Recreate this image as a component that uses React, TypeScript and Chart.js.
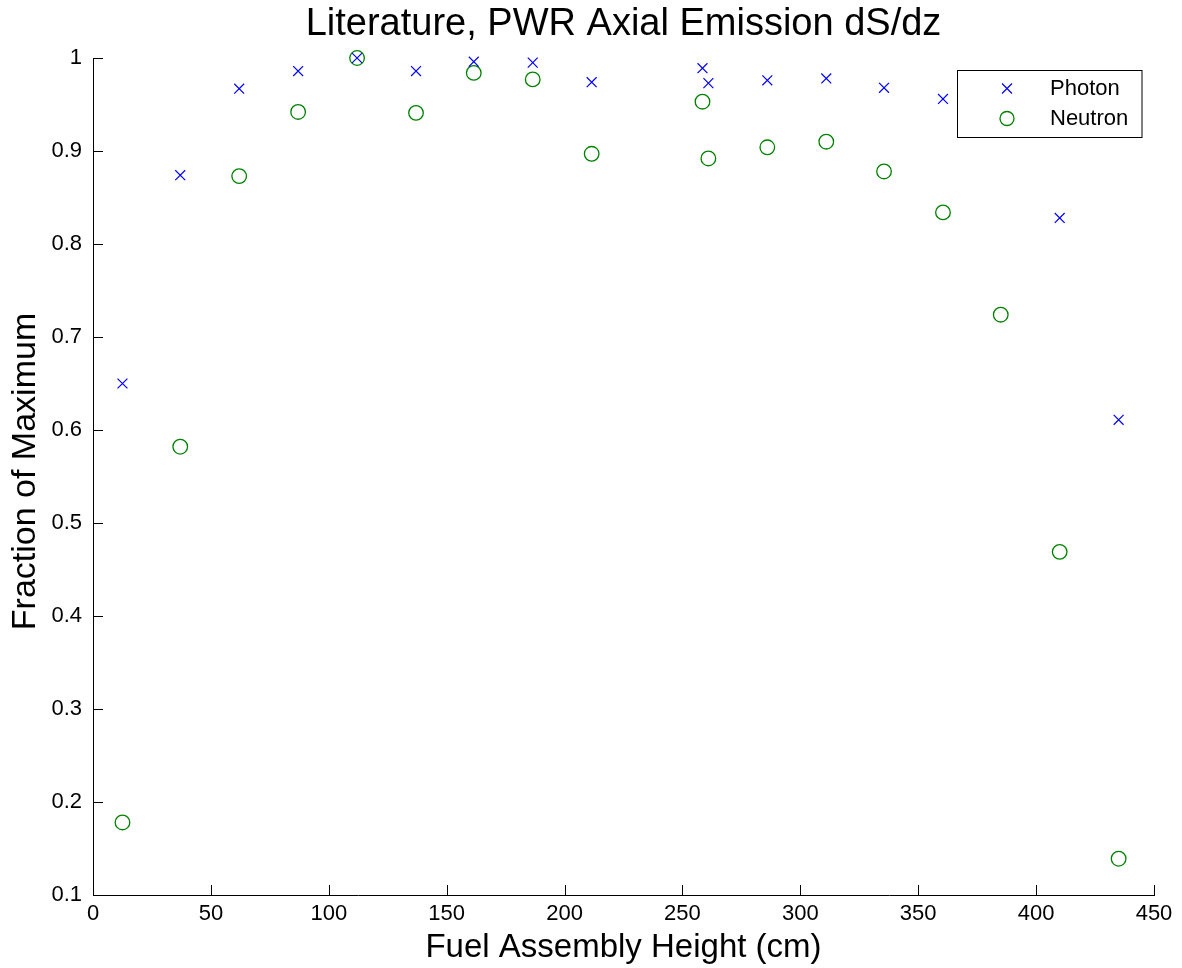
import React, { useEffect, useRef } from "react";
import { Chart, registerables } from "chart.js";

Chart.register(...registerables);

const heights = [12.5, 37, 62, 87, 112, 137, 161.5, 186.5, 211.5, 258.5, 261, 286, 311, 335.5, 360.5, 385, 410, 435];
const photon: (number | null)[] = [0.65, 0.874, 0.967, 0.986, 1.0, 0.986, 0.996, 0.995, 0.974, 0.989, 0.973, 0.976, 0.978, 0.968, 0.956, null, 0.828, 0.611];
const neutron = [0.178, 0.582, 0.873, 0.942, 1.0, 0.941, 0.984, 0.977, 0.897, 0.953, 0.892, 0.904, 0.91, 0.878, 0.834, 0.724, 0.469, 0.139];
const xTicks = [0, 50, 100, 150, 200, 250, 300, 350, 400, 450];
const yTicks = [0.1, 0.2, 0.3, 0.4, 0.5, 0.6, 0.7, 0.8, 0.9, 1];
const seriesNames = ["Photon", "Neutron"];

const TITLE = "Literature, PWR Axial Emission dS/dz";
const XLABEL = "Fuel Assembly Height (cm)";
const YLABEL = "Fraction of Maximum";
const FONT = "'Liberation Sans', Arial, Helvetica, sans-serif";

const decorPlugin = {
  id: "decor",
  afterDatasetsDraw(chart: any) {
    const { ctx, chartArea, scales } = chart;
    const xs = scales.x;
    const ys = scales.y;
    ctx.save();
    // inward ticks
    ctx.strokeStyle = "#000";
    ctx.lineWidth = 1;
    ctx.beginPath();
    xTicks.forEach((t) => {
      const px = Math.round(xs.getPixelForValue(t)) + 0.5;
      ctx.moveTo(px, chartArea.bottom);
      ctx.lineTo(px, chartArea.bottom - 10);
    });
    yTicks.forEach((t) => {
      const py = Math.round(ys.getPixelForValue(t)) + 0.5;
      ctx.moveTo(chartArea.left, py);
      ctx.lineTo(chartArea.left + 10, py);
    });
    ctx.stroke();

    // title
    ctx.fillStyle = "#000";
    ctx.font = `38px ${FONT}`;
    ctx.textAlign = "center";
    ctx.textBaseline = "alphabetic";
    ctx.fillText(TITLE, (chartArea.left + chartArea.right) / 2, 35);

    // x label
    ctx.font = `33px ${FONT}`;
    ctx.fillText(XLABEL, (chartArea.left + chartArea.right) / 2, 957);

    // y label
    ctx.save();
    ctx.font = `34px ${FONT}`;
    ctx.translate(35, (chartArea.top + chartArea.bottom) / 2 - 5);
    ctx.rotate(-Math.PI / 2);
    ctx.fillText(YLABEL, 0, 0);
    ctx.restore();

    // legend
    const bx = 957.5, by = 70.5, bw = 184.5, bh = 67;
    ctx.fillStyle = "#fff";
    ctx.fillRect(bx, by, bw, bh);
    ctx.strokeStyle = "#000";
    ctx.lineWidth = 1;
    ctx.strokeRect(bx, by, bw, bh);
    // photon marker
    const mx = 1007;
    let my = 88.5;
    const d = 5;
    ctx.strokeStyle = "#0000ff";
    ctx.lineWidth = 1.2;
    ctx.beginPath();
    ctx.moveTo(mx - d, my - d);
    ctx.lineTo(mx + d, my + d);
    ctx.moveTo(mx - d, my + d);
    ctx.lineTo(mx + d, my - d);
    ctx.stroke();
    // neutron marker
    my = 118.5;
    ctx.strokeStyle = "#008000";
    ctx.lineWidth = 1.3;
    ctx.beginPath();
    ctx.arc(mx, my, 7, 0, Math.PI * 2);
    ctx.stroke();
    ctx.fillStyle = "#000";
    ctx.font = `22px ${FONT}`;
    ctx.textAlign = "left";
    ctx.textBaseline = "middle";
    ctx.fillText(seriesNames[0], 1050, 89);
    ctx.fillText(seriesNames[1], 1050, 119);
    ctx.restore();
  },
};

export default function App() {
  const ref = useRef<HTMLCanvasElement>(null);
  useEffect(() => {
    if (!ref.current) return;
    const chart = new Chart(ref.current, {
      type: "scatter",
      data: {
        datasets: [
          {
            label: seriesNames[0],
            data: heights.map((h, i) => ({ x: h, y: photon[i] })) as any,
            pointStyle: "crossRot",
            pointRadius: 7,
            borderColor: "#0000ff",
            backgroundColor: "#0000ff",
            borderWidth: 1.2,
            showLine: false,
            clip: false as any,
          },
          {
            label: seriesNames[1],
            data: heights.map((h, i) => ({ x: h, y: neutron[i] })),
            pointStyle: "circle",
            pointRadius: 7.3,
            borderColor: "#008000",
            backgroundColor: "rgba(0,0,0,0)",
            borderWidth: 1.3,
            showLine: false,
            clip: false as any,
          },
        ],
      },
      options: {
        animation: false,
        responsive: false,
        devicePixelRatio: 1,
        layout: { padding: { top: 58, right: 28, left: 0, bottom: 0 } },
        plugins: {
          legend: { display: false },
          title: { display: false },
          tooltip: { enabled: false },
        },
        scales: {
          x: {
            type: "linear",
            min: 0,
            max: 450,
            afterBuildTicks: (s: any) => {
              s.ticks = xTicks.map((v) => ({ value: v }));
            },
            afterFit: (s: any) => {
              s.height = 73;
            },
            ticks: {
              font: { family: FONT, size: 22 },
              color: "#000",
              padding: 6,
              maxRotation: 0,
              autoSkip: false,
              callback: (v: any) => String(v),
            },
            grid: { display: false, drawTicks: false },
            border: { display: true, color: "#000", width: 1 },
          },
          y: {
            type: "linear",
            min: 0.1,
            max: 1,
            afterBuildTicks: (s: any) => {
              s.ticks = yTicks.map((v) => ({ value: v }));
            },
            afterFit: (s: any) => {
              s.width = 93;
            },
            ticks: {
              font: { family: FONT, size: 22 },
              color: "#000",
              padding: 11,
              autoSkip: false,
              callback: (v: any) => String(Math.round(Number(v) * 10) / 10),
            },
            grid: { display: false, drawTicks: false },
            border: { display: true, color: "#000", width: 1 },
          },
        },
      },
      plugins: [decorPlugin],
    });
    return () => chart.destroy();
  }, []);
  return (
    <div style={{ position: "fixed", left: 0, top: 0, width: 1182, height: 968, background: "#fff" }}>
      <canvas ref={ref} width={1182} height={968} style={{ display: "block" }} />
    </div>
  );
}
